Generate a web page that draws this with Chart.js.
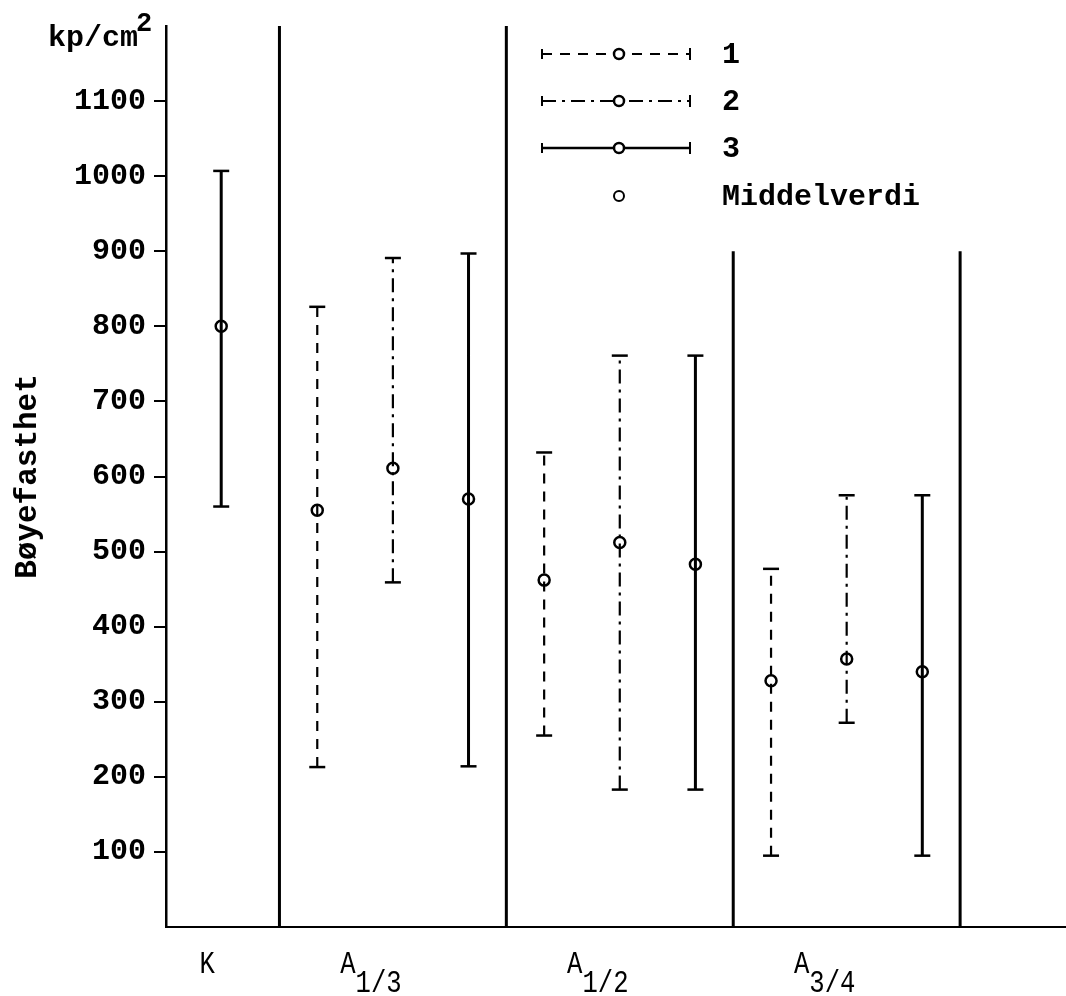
<!DOCTYPE html>
<html>
<head>
<meta charset="utf-8">
<script src="https://cdn.jsdelivr.net/npm/chart.js"></script>
<style>
    html, body { margin: 0; padding: 0; background: #fff; }
    #wrap { width: 1066px; height: 996px; }
</style>
</head>
<body>
<div id="wrap"><canvas id="myChart"></canvas></div>

<script>
    // groups along the x axis
    const groupNames = ['K', 'A', 'A', 'A']
    const groupSubs = ['', '1/3', '1/2', '3/4']
    const groupCentre = [0.73, 3, 6, 9]
    const seriesOffset = [-1, 0, 1]

    // Bøyefasthet kp/cm2 : lowest, highest and mean value per group
    const s1Low = [null, 213, 255, 95]
    const s1High = [null, 826, 632, 477]
    const s1Mean = [null, 555, 462, 328]
    const s2Low = [null, 459, 183, 272]
    const s2High = [null, 891, 761, 575]
    const s2Mean = [null, 611, 512, 357]
    const s3Low = [560, 214, 183, 95]
    const s3High = [1007, 897, 761, 575]
    const s3Mean = [800, 570, 483, 340]

    // vertical separators between the groups
    const dividerX = [1.5, 4.5, 7.5, 10.5]
    const dividerTop = [1200, 1200, 900, 900]

    const yTicks = [100, 200, 300, 400, 500, 600, 700, 800, 900, 1000, 1100]

    const FONT = "'Liberation Mono', 'Courier New', monospace"
    const dashes = [[10, 8], [14, 6, 3, 6], []]
    const widths = [2.2, 2.2, 3]

    const lows = [s1Low, s2Low, s3Low]
    const highs = [s1High, s2High, s3High]
    const means = [s1Mean, s2Mean, s3Mean]

    function barX(g, s) {
        let count = lows.filter(l => l[g] != null).length
        return groupCentre[g] + (count === 1 ? 0 : seriesOffset[s])
    }

    let datasets = []

    // separators
    let divData = []
    for (let i = 0; i < dividerX.length; i++) {
        divData.push({ x: dividerX[i], y: 0 }, { x: dividerX[i], y: dividerTop[i] }, { x: dividerX[i], y: null })
    }
    datasets.push({
        type: 'line', data: divData, borderColor: '#000', borderWidth: 3,
        pointRadius: 0, spanGaps: false, clip: false
    })

    // range bars
    for (let s = 0; s < 3; s++) {
        let d = []
        for (let g = 0; g < groupNames.length; g++) {
            if (lows[s][g] == null) continue
            let x = barX(g, s)
            d.push({ x: x, y: lows[s][g] }, { x: x, y: highs[s][g] }, { x: x, y: null })
        }
        datasets.push({
            type: 'line', label: String(s + 1), data: d,
            borderColor: '#000', borderWidth: widths[s], borderDash: dashes[s],
            pointStyle: 'line', pointRadius: 8, pointBorderWidth: 2.5,
            pointBorderColor: '#000', spanGaps: false
        })
    }

    // mean values
    for (let s = 0; s < 3; s++) {
        let d = []
        for (let g = 0; g < groupNames.length; g++) {
            if (means[s][g] == null) continue
            d.push({ x: barX(g, s), y: means[s][g] })
        }
        datasets.push({
            type: 'scatter', label: 'Middelverdi', data: d,
            pointStyle: 'circle', pointRadius: 5.5, pointBorderWidth: 2.5,
            pointBorderColor: '#000', pointBackgroundColor: '#fff'
        })
    }

    const extras = {
        id: 'extras',
        afterDraw(chart) {
            const ctx = chart.ctx
            const xs = chart.scales.x
            const area = chart.chartArea
            ctx.save()
            ctx.fillStyle = '#000'
            ctx.strokeStyle = '#000'

            // unit
            ctx.font = 'bold 30px ' + FONT
            ctx.textAlign = 'left'
            ctx.textBaseline = 'alphabetic'
            ctx.fillText('kp/cm', 48, 46)
            let w = ctx.measureText('kp/cm').width
            ctx.font = 'bold 27px ' + FONT
            ctx.fillText('2', 48 + w - 2, 31)

            // group labels with subscripts (narrow typewriter look)
            const sx = 0.8
            ctx.font = '32px ' + FONT
            for (let g = 0; g < groupNames.length; g++) {
                let mw = ctx.measureText(groupNames[g]).width * sx
                let sw = groupSubs[g] ? ctx.measureText(groupSubs[g]).width * sx : 0
                let shift = groupSubs[g] ? 22 : 14
                let left = xs.getPixelForValue(groupCentre[g]) - shift - (mw + sw) / 2
                ctx.save()
                ctx.translate(left, 0)
                ctx.scale(sx, 1)
                ctx.fillText(groupNames[g], 0, area.bottom + 46)
                ctx.restore()
                if (groupSubs[g]) {
                    ctx.save()
                    ctx.translate(left + mw, 0)
                    ctx.scale(sx, 1)
                    ctx.fillText(groupSubs[g], 0, area.bottom + 65)
                    ctx.restore()
                }
            }

            // legend
            const lx0 = 542, lx1 = 690, lxc = 619, ltx = 722
            for (let s = 0; s < 3; s++) {
                let y = 54 + s * 47
                ctx.lineWidth = widths[s] - 0.4
                ctx.setLineDash(dashes[s])
                ctx.beginPath()
                ctx.moveTo(lx0, y)
                ctx.lineTo(lx1, y)
                ctx.stroke()
                ctx.setLineDash([])
                ctx.lineWidth = 2
                ctx.beginPath()
                ctx.moveTo(lx0, y - 5); ctx.lineTo(lx0, y + 5)
                ctx.moveTo(lx1, y - 6); ctx.lineTo(lx1, y + 6)
                ctx.stroke()
                ctx.lineWidth = 2.5
                ctx.fillStyle = '#fff'
                ctx.beginPath()
                ctx.arc(lxc, y, 5, 0, Math.PI * 2)
                ctx.fill()
                ctx.stroke()
                ctx.fillStyle = '#000'
                ctx.font = 'bold 30px ' + FONT
                ctx.textBaseline = 'middle'
                ctx.fillText(String(s + 1), ltx, y + 1)
            }
            let my = 196
            ctx.lineWidth = 2
            ctx.fillStyle = '#fff'
            ctx.beginPath()
            ctx.arc(lxc, my, 5, 0, Math.PI * 2)
            ctx.fill()
            ctx.stroke()
            ctx.fillStyle = '#000'
            ctx.fillText('Middelverdi', ltx, my + 1)
            ctx.restore()
        }
    }

    new Chart(document.getElementById('myChart'), {
        type: 'line',
        data: { datasets: datasets },
        plugins: [extras],
        options: {
            responsive: true,
            maintainAspectRatio: false,
            animation: false,
            events: [],
            layout: { autoPadding: false, padding: { top: 22, right: 0, left: 0, bottom: 0 } },
            plugins: { legend: { display: false }, tooltip: { enabled: false } },
            scales: {
                x: {
                    type: 'linear', min: 0, max: 11.9,
                    ticks: { display: false },
                    grid: { display: false },
                    border: { color: '#000', width: 2 },
                    afterFit: s => { s.height = 69 }
                },
                y: {
                    type: 'linear', min: 0, max: 1200,
                    afterBuildTicks: s => { s.ticks = yTicks.map(v => ({ value: v })) },
                    afterFit: s => { s.width = 166 },
                    ticks: {
                        color: '#000', padding: 8,
                        font: { family: FONT, size: 30, weight: 'bold' },
                        callback: v => String(v)
                    },
                    grid: { drawOnChartArea: false, tickLength: 12, color: '#000', lineWidth: 2 },
                    border: { color: '#000', width: 2.5 },
                    title: {
                        display: true, text: 'Bøyefasthet', color: '#000',
                        font: { family: FONT, size: 31, weight: 'bold' },
                        padding: { top: 10, bottom: 0 }
                    }
                }
            }
        }
    });
</script>
</body>
</html>
